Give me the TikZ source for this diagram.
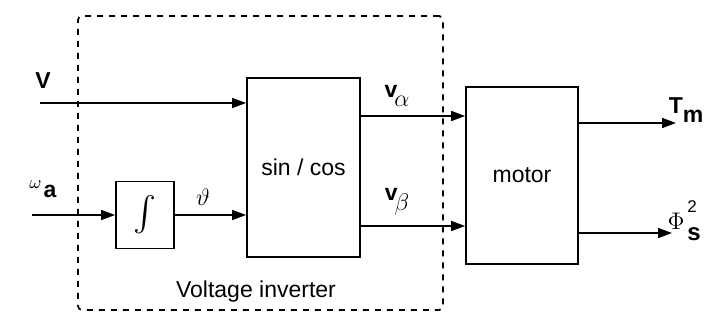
\documentclass[tikz,border=0pt]{standalone}
\usepackage{amsmath}
\usepackage{fontspec}
\setmainfont{Liberation Sans}
\usepackage{tikz}
\usetikzlibrary{arrows.meta,positioning}
\tikzset{
  blk/.style={rectangle, draw=black, fill=white, line width=0.9pt, align=center, inner sep=0pt},
  lbl/.style={inner sep=0pt, align=center},
  flow/.style={-{Triangle[length=7pt,width=5pt]}, draw=black, line width=0.8pt},
  grp/.style={rectangle, draw=black, line width=0.9pt, dash pattern=on 3pt off 3pt, rounded corners=2pt, inner sep=0pt}
}

\begin{document}
\begin{tikzpicture}[x=0.5pt, y=-0.5pt, every node/.style={font=\fontsize{11.5}{13}\selectfont}]
 \useasboundingbox (0,0) rectangle (706,326);
 \node[grp, minimum width=182.5pt, minimum height=147pt] (inv) at (260.5,163) {};
 \node[blk, minimum width=29pt, minimum height=33.5pt, font=\fontsize{19}{21}\selectfont] (integ) at (145,215) {$\int$};
 \node[blk, minimum width=56.5pt, minimum height=89.5pt] (sincos) at (303.5,167.5) {sin / cos};
 \node[blk, minimum width=56pt, minimum height=88.5pt] (motor) at (522,175.5) {motor};
 \node[lbl] (invlab) at (256,292) {Voltage inverter};
 % inputs
 \coordinate (vin) at (40,103);
 \coordinate (win) at (32,215);
 \coordinate (va) at (0,116);
 \coordinate (vb) at (0,226);
 \coordinate (tmout) at (676,123);
 \coordinate (phout) at (672,233);
 \draw[flow](vin)--(vin -| sincos.west);
 \draw[flow](win)--(integ);\draw[flow](integ)--(integ -| sincos.west);
 \draw[flow](va -| sincos.east)--(va -| motor.west);
 \draw[flow](vb -| sincos.east)--(vb -| motor.west);
 \draw[flow](tmout -| motor.east)--(tmout);
 \draw[flow](phout -| motor.east)--(phout);
 % labels
 \node[lbl] (vlab) at (43,81) {\textbf{V}};
 \node[lbl] (wlab) at (43,189) {{\small$\omega$}\hspace{1pt}\raisebox{-.7ex}{\textbf{a}}};
 \node[lbl] (thlab) at (203,197) {$\vartheta$};
 \node[lbl] (valab) at (397,96) {\textbf{v}\hspace{-1.5pt}\raisebox{-.8ex}{$\alpha$}};
 \node[lbl] (vblab) at (397,202) {\textbf{v}\hspace{-1.5pt}\raisebox{-.8ex}{$\beta$}};
 \node[lbl] (tmlab) at (686,110) {\textbf{T}\raisebox{-.8ex}{\textbf{m}}};
 \node[lbl, font=\fontsize{12}{13}\selectfont] (phlab) at (676,221) {$\Phi$};
 \node[lbl, font=\fontsize{8.5}{9}\selectfont] (phsup) at (692,207) {2};
 \node[lbl, font=\fontsize{12}{13}\selectfont\bfseries] (phsub) at (694,234) {s};
\end{tikzpicture}
\end{document}
